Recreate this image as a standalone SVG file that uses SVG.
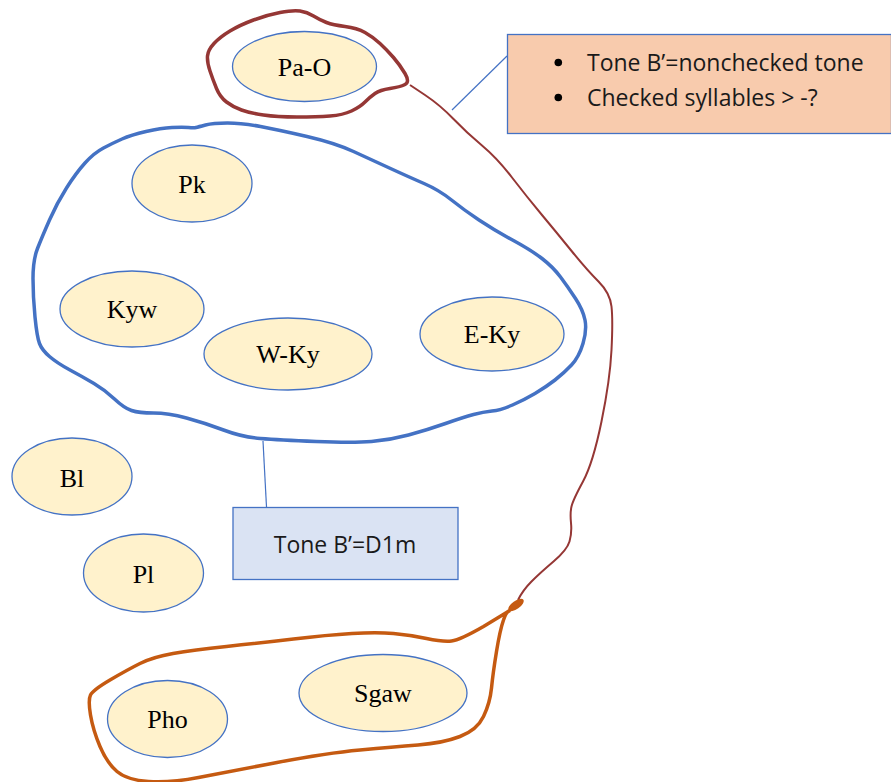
<svg xmlns="http://www.w3.org/2000/svg" width="891" height="782" viewBox="0 0 891 782">
<style>
.node ellipse{fill:#FFF2CC;stroke:#4472C4;stroke-width:1.3}
.node text{font-family:"Liberation Serif","Times New Roman",serif;font-size:26px;fill:#000;text-anchor:middle}
.box rect{stroke:#4472C4;stroke-width:1.3}
.box text{font-family:"Open Sans","Noto Sans",sans-serif;font-size:23px;fill:#1a1a1a}
.thick{fill:none;stroke-width:3.5;stroke-linejoin:round;stroke-linecap:round}
</style>
<rect width="891" height="782" fill="#fff"/>
<g id="connectors">
  <path class="thick" stroke="#4472C4" d="M 196,127.5 Q 198,127 205.5,125 Q 213,123 227.5,123 Q 242,123 260.5,126.5 Q 279,130 307,136.5 Q 335,143 353.5,151.5 Q 372,160 390.5,168.5 Q 409,177 424,183.5 Q 439,190 451.5,200 Q 464,210 479,220 Q 494,230 512.5,240 Q 531,250 542,258.5 Q 553,267 560.5,277 Q 568,287 575.5,298.5 Q 583,310 585,320 Q 587,330 583,343.5 Q 579,357 571.5,365 Q 564,373 555,380 Q 546,387 535,393.5 Q 524,400 512.5,405 Q 501,410 492,411 Q 483,412 473.5,414.5 Q 464,417 445.5,423.5 Q 427,430 408.5,435 Q 390,440 371.5,441.5 Q 353,443 316,441.5 Q 279,440 260.5,438.5 Q 242,437 223.5,430 Q 205,423 186.5,418 Q 168,413 153.5,413 Q 139,413 131.5,410.5 Q 124,408 114.5,399 Q 105,390 94,383.5 Q 83,377 70,370 Q 57,363 49.5,356.5 Q 42,350 39.5,343.5 Q 37,337 35,317 Q 33,297 33,278.5 Q 33,260 37.5,248.5 Q 42,237 49.5,220 Q 57,203 66.5,188 Q 76,173 85,163 Q 94,153 103.5,148 Q 113,143 122,139 Q 131,135 146,131.5 Q 161,128 172,127.5 Q 183,127 188.5,127.5 Q 194,128 196,127.5 Z"/>
  <path class="thick" stroke="#953735" d="M 405,84.5 Q 410,82 405,73.5 Q 400,65 393.5,57.5 Q 387,50 380,43.5 Q 373,37 365,32.5 Q 357,28 345,26.5 Q 333,25 326.5,22.5 Q 320,20 313.5,16 Q 307,12 300,11 Q 293,10 280,12.5 Q 267,15 253.5,20 Q 240,25 230,31 Q 220,37 214,43.5 Q 208,50 207.5,56 Q 207,62 210,71 Q 213,80 216.5,88.5 Q 220,97 226.5,102 Q 233,107 241.5,110 Q 250,113 263.5,115 Q 277,117 297,117 Q 317,117 330,116 Q 343,115 351.5,111 Q 360,107 365,102 Q 370,97 375,93.5 Q 380,90 390,88.5 Q 400,87 405,84.5 Z"/>
  <path fill="none" stroke="#953735" stroke-width="2" d="M 410,85 L 425,95 Q 440,105 453.5,119 Q 467,133 482,145.5 Q 497,158 512,177.5 Q 527,197 542,215 Q 557,233 572,251.5 Q 587,270 598.5,281.5 Q 610,293 611.5,306.5 Q 613,320 611.5,350 Q 610,380 601.5,421.5 Q 593,463 583,481.5 Q 573,500 571.5,506.5 Q 570,513 571,523 Q 572,533 569.5,541.5 Q 567,550 553.5,561.5 Q 540,573 531.5,581.5 Q 523,590 518,600"/>
  <path class="thick" stroke="#C55A11" d="M 509,611 L 483.5,626.5 Q 460,640 451.5,641 Q 443,642 426.5,638.5 Q 410,635 393.5,633.5 Q 377,632 352,633.5 Q 327,635 293.5,639 Q 260,643 226.5,646.5 Q 193,650 173,653.5 Q 153,657 140,663.5 Q 127,670 110,680 Q 93,690 90.5,695 Q 88,700 90.5,715 Q 93,730 100,746.5 Q 107,763 117,771.5 Q 127,780 148.5,781.5 Q 170,783 198.5,777.5 Q 227,772 277,762.5 Q 327,753 360,750 Q 393,747 418,745 Q 443,743 460,736.5 Q 477,730 483.5,716.5 Q 490,703 491.5,688 Q 493,673 496.5,651.5 Q 500,630 503.5,620 Q 506,612 509,611"/>
  <ellipse cx="516" cy="605" rx="9" ry="4" fill="#C55A11" transform="rotate(-35 516 605)"/>
  <line x1="452" y1="110" x2="507" y2="56" stroke="#4472C4" stroke-width="1.2"/>
  <line x1="263" y1="441" x2="266.5" y2="507" stroke="#4472C4" stroke-width="1.2"/>
</g>
<g id="note-orange" class="box">
  <rect x="507.5" y="34.5" width="384" height="99" fill="#F8CBAD"/>
  <circle cx="558.3" cy="62.5" r="3.8" fill="#000"/>
  <circle cx="558.3" cy="97.5" r="3.8" fill="#000"/>
  <text x="587" y="71">Tone B’=nonchecked tone</text>
  <text x="587" y="106">Checked syllables &gt; -?</text>
</g>
<g id="note-blue" class="box">
  <rect x="233" y="507.5" width="225" height="72" fill="#DAE3F3"/>
  <text x="345" y="553" text-anchor="middle">Tone B’=D1m</text>
</g>
<g id="pa-o" class="node"><ellipse cx="304.5" cy="66.5" rx="72" ry="35"/><text x="304.5" y="76">Pa-O</text></g>
<g id="pk" class="node"><ellipse cx="192" cy="183.5" rx="60" ry="38.5"/><text x="192" y="193">Pk</text></g>
<g id="kyw" class="node"><ellipse cx="132" cy="309" rx="72" ry="38"/><text x="132" y="318">Kyw</text></g>
<g id="w-ky" class="node"><ellipse cx="288" cy="354" rx="84" ry="36"/><text x="288" y="363">W-Ky</text></g>
<g id="e-ky" class="node"><ellipse cx="492" cy="334" rx="72" ry="37"/><text x="492" y="343">E-Ky</text></g>
<g id="bl" class="node"><ellipse cx="72" cy="476.5" rx="60" ry="38.5"/><text x="72" y="487">Bl</text></g>
<g id="pl" class="node"><ellipse cx="143.5" cy="573" rx="60" ry="39"/><text x="143.5" y="583">Pl</text></g>
<g id="pho" class="node"><ellipse cx="167.5" cy="719" rx="60" ry="38.5"/><text x="167.5" y="728">Pho</text></g>
<g id="sgaw" class="node"><ellipse cx="383" cy="693" rx="84" ry="38.5"/><text x="383" y="702">Sgaw</text></g>
</svg>
